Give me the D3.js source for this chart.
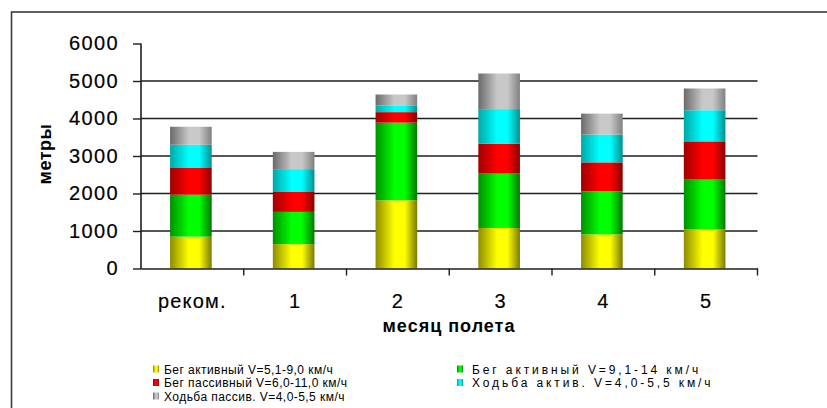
<!DOCTYPE html>
<html><head><meta charset="utf-8">
<script src="https://cdn.jsdelivr.net/npm/d3@7"></script>
<style>body{margin:0;background:#fff}svg{display:block}text{font-family:"Liberation Sans",Arial,sans-serif;fill:#000}</style>
</head><body><svg id="c" width="827" height="408"></svg>
<script>
const categories = ["реком.", "1", "2", "3", "4", "5"];
const seriesNames = [
  "Бег активный V=5,1-9,0 км/ч",
  "Бег активный V=9,1-14 км/ч",
  "Бег пассивный V=6,0-11,0 км/ч",
  "Ходьба актив. V=4,0-5,5 км/ч",
  "Ходьба пассив. V=4,0-5,5 км/ч"
];
const runActiveSlow  = [850, 650, 1820, 1080, 910, 1040];
const runActiveFast  = [1120, 860, 2070, 1450, 1150, 1330];
const runPassive     = [710, 530, 280, 800, 770, 1020];
const walkActive     = [620, 610, 180, 920, 740, 830];
const walkPassive    = [480, 460, 290, 950, 560, 580];
const yTicks = [0, 1000, 2000, 3000, 4000, 5000, 6000];
const gridTicks = [1000, 2000, 3000, 4000, 5000];
const yTitle = "метры";
const xTitle = "месяц полета";
const colors = [
  ["#8c8c00", "#ffff00", "#7a7a00"],
  ["#009000", "#00ff00", "#007800"],
  ["#a00000", "#ff0000", "#8a0000"],
  ["#00a8a8", "#00ffff", "#009090"],
  ["#6a6a6a", "#c8c8c8", "#808080"]
];
const allSeries = [runActiveSlow, runActiveFast, runPassive, walkActive, walkPassive];

const svg = d3.select("#c");
const defs = svg.append("defs");
colors.forEach((c, i) => {
  const g = defs.append("linearGradient").attr("id", "g" + i).attr("x1", "0").attr("x2", "1").attr("y1", "0").attr("y2", "0");
  g.append("stop").attr("offset", "0").attr("stop-color", c[0]);
  g.append("stop").attr("offset", "0.45").attr("stop-color", c[1]);
  g.append("stop").attr("offset", "0.7").attr("stop-color", c[1]);
  g.append("stop").attr("offset", "1").attr("stop-color", c[2]);
});

// frame
svg.append("rect").attr("x", 11.5).attr("y", 12).attr("width", 900).attr("height", 600)
  .attr("fill", "none").attr("stroke", "#3a3a3a").attr("stroke-width", 1.6);

const x = d3.scaleBand().domain(categories).range([141, 757.5]).padding(0);
const y = d3.scaleLinear().domain([0, 6000]).range([268.5, 43.5]);

// gridlines
svg.append("g").selectAll("line").data(gridTicks).join("line")
  .attr("x1", 141).attr("x2", 757.5).attr("y1", d => y(d)).attr("y2", d => y(d))
  .attr("stroke", "#1e1e1e").attr("stroke-width", 1.4);

// stacked bars
const rows = categories.map((c, i) => { const o = {cat: c}; allSeries.forEach((s, k) => o["s" + k] = s[i]); return o; });
const stack = d3.stack().keys(allSeries.map((s, k) => "s" + k))(rows);
const barW = x.bandwidth() * 0.405;
svg.append("g").selectAll("g").data(stack).join("g")
  .attr("fill", (d, i) => "url(#g" + i + ")")
  .selectAll("rect").data(d => d).join("rect")
  .attr("x", d => x(d.data.cat) + (x.bandwidth() - barW) / 2 - 1.5)
  .attr("width", barW)
  .attr("y", d => y(d[1]))
  .attr("height", d => y(d[0]) - y(d[1]));

// y axis
const yAxis = svg.append("g").attr("transform", "translate(141,0)")
  .call(d3.axisLeft(y).tickValues(yTicks).tickSize(8).tickPadding(14).tickFormat(d3.format("d")));
yAxis.select(".domain").attr("stroke", "#1e1e1e").attr("stroke-width", 1.6).attr("d", "M0," + y(6000) + "V" + (y(0) + 0.8));
yAxis.selectAll(".tick line").attr("stroke", "#1e1e1e").attr("stroke-width", 1.4);
yAxis.selectAll(".tick text").attr("font-size", 20).attr("letter-spacing", 1.4).attr("fill", "#000")
  .attr("stroke", "#000").attr("stroke-width", 0.2)
  .attr("font-family", "Liberation Sans, Arial, sans-serif");

// x axis
const xAxis = svg.append("g").attr("transform", "translate(0," + y(0) + ")")
  .call(d3.axisBottom(x).tickSize(0).tickPadding(25));
xAxis.select(".domain").attr("stroke", "#1e1e1e").attr("stroke-width", 1.6);
xAxis.selectAll(".tick text").attr("font-size", 20).attr("letter-spacing", 1.2).attr("fill", "#000")
  .attr("stroke", "#000").attr("stroke-width", 0.15)
  .attr("font-family", "Liberation Sans, Arial, sans-serif");
const bounds = categories.map(c => x(c)).concat([x(categories[categories.length - 1]) + x.bandwidth()]).slice(1);
xAxis.append("g").selectAll("line").data(bounds).join("line")
  .attr("x1", d => d).attr("x2", d => d).attr("y1", 0).attr("y2", 7)
  .attr("stroke", "#1e1e1e").attr("stroke-width", 1.4);

// titles
svg.append("text").attr("transform", "translate(51,154) rotate(-90)").attr("text-anchor", "middle")
  .attr("font-size", 18).attr("font-weight", "bold").attr("letter-spacing", 0.5).text(yTitle);
svg.append("text").attr("x", 449).attr("y", 332).attr("text-anchor", "middle")
  .attr("font-size", 18).attr("font-weight", "bold").attr("letter-spacing", 1).text(xTitle);

// legend
const legX = [153, 457], legTextX = [164, 472], legY = [373.5, 387, 400.5], legSpacing = [0.45, 2.9];
const leg = svg.append("g").selectAll("g").data(seriesNames).join("g")
  .attr("transform", (d, i) => "translate(" + legX[i % 2] + "," + legY[Math.floor(i / 2)] + ")");
leg.append("rect").attr("x", 0).attr("y", -8).attr("width", 6).attr("height", 7).attr("fill", (d, i) => "url(#g" + i + ")");
leg.append("text").attr("x", (d, i) => legTextX[i % 2] - legX[i % 2]).attr("y", 0)
  .attr("font-size", 12).attr("letter-spacing", (d, i) => legSpacing[i % 2]).text(d => d);
</script></body></html>
